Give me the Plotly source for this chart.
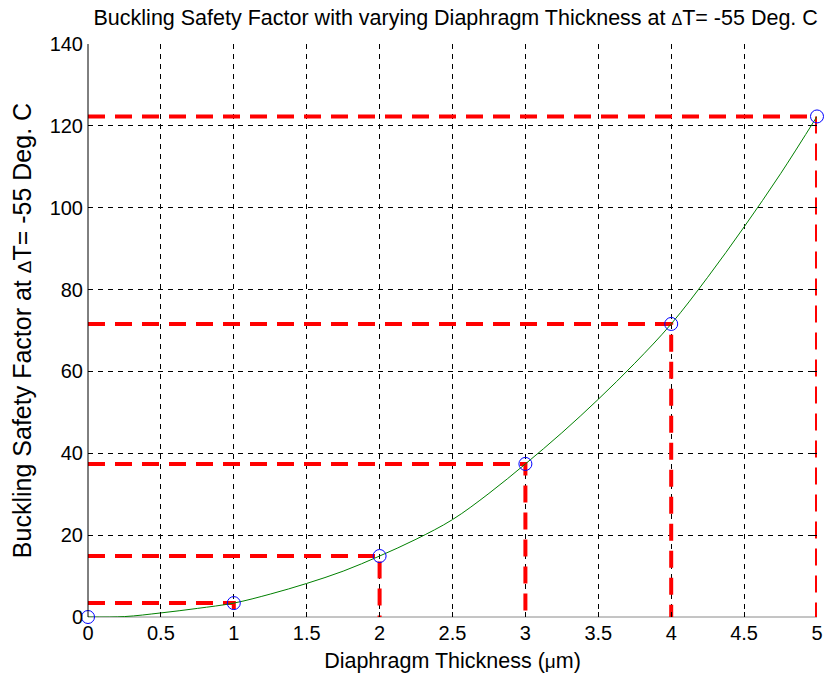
import plotly.graph_objects as go

# Diaphragm thickness (um) and buckling safety factor at dT = -55 deg C
thickness = [0.0, 0.25, 0.5, 0.75, 1.0, 1.25, 1.5, 1.75, 2.0, 2.25, 2.5,
             2.75, 3.0, 3.25, 3.5, 3.75, 4.0, 4.25, 4.5, 4.75, 5.0]
safety = [0.0, 0.1, 1.0, 2.1, 3.4, 5.6, 8.2, 11.2, 14.9, 19.0, 23.8,
          30.2, 37.4, 45.0, 53.2, 62.0, 71.6, 83.0, 95.3, 108.3, 122.3]

# Sampled design points
pt_x = [0, 1, 2, 3, 4, 5]
pt_y = [0.0, 3.4, 14.9, 37.4, 71.6, 122.3]

x_ticks = [0, 0.5, 1, 1.5, 2, 2.5, 3, 3.5, 4, 4.5, 5]
y_ticks = [0, 20, 40, 60, 80, 100, 120, 140]

FONT = "Liberation Sans, Arial, Helvetica, sans-serif"


def small(s, px):
    return '<span style="font-size:%dpx">%s</span>' % (px, s)


fig = go.Figure()

# Red dashed guide lines from each design point to both axes
for xv, yv in zip(pt_x[1:], pt_y[1:]):
    fig.add_trace(go.Scatter(
        x=[0, xv, xv], y=[yv, yv, 0], mode="lines",
        line=dict(color="#ff0000", width=4, dash="17px,10px"),
        hoverinfo="skip", showlegend=False, cliponaxis=False))

# Safety factor curve
fig.add_trace(go.Scatter(
    x=thickness, y=safety, mode="lines",
    line=dict(color="#008000", width=1), line_shape="spline",
    showlegend=False))

# Design point markers
fig.add_trace(go.Scatter(
    x=pt_x, y=pt_y, mode="markers",
    marker=dict(symbol="circle-open", size=13, color="#0000ff",
                line=dict(width=1, color="#0000ff")),
    showlegend=False, cliponaxis=False))

axis_common = dict(
    showgrid=True, gridcolor="#000000", gridwidth=1, griddash="5px,5px",
    ticks="inside", ticklen=5, tickcolor="#000000", mirror="ticks",
    showline=False, zeroline=False, automargin=False,
    tickfont=dict(family=FONT, size=20, color="#000000"),
)

fig.update_xaxes(
    range=[0, 5], tickvals=x_ticks, ticktext=[f"{v:g}" for v in x_ticks],
    ticklabelstandoff=2,
    title=dict(text="Diaphragm Thickness (" + small("μ", 19) + "m)",
               font=dict(family=FONT, size=21.5, color="#000000"), standoff=9),
    **axis_common)
fig.update_yaxes(
    range=[0, 140], tickvals=y_ticks, ticktext=[str(v) for v in y_ticks],
    ticklabelstandoff=4,
    title=dict(text="Buckling Safety Factor at " + small("Δ", 19) + "T= -55 Deg. C",
               font=dict(family=FONT, size=25, color="#000000"), standoff=10),
    **axis_common)

# Axes frame: solid left edge, grey bottom edge under the dashed grid
fig.add_shape(type="line", xref="paper", yref="paper", x0=0, x1=0, y0=0, y1=1,
              line=dict(color="#000000", width=1), layer="above")
fig.add_shape(type="line", xref="paper", yref="paper", x0=0, x1=1, y0=0, y1=0,
              line=dict(color="#8a8a8a", width=1), layer="below")

fig.update_layout(
    template="none",
    width=824, height=682,
    margin=dict(l=88, r=7, t=44, b=65),
    paper_bgcolor="#ffffff", plot_bgcolor="#ffffff",
    showlegend=False,
    title=dict(text="Buckling Safety Factor with varying Diaphragm Thickness at "
                    + small("Δ", 16) + "T= -55 Deg. C",
               font=dict(family=FONT, size=21.5, color="#000000"),
               x=0.553, xanchor="center", y=0.975, yanchor="middle"),
)

fig.write_html("out.html")
